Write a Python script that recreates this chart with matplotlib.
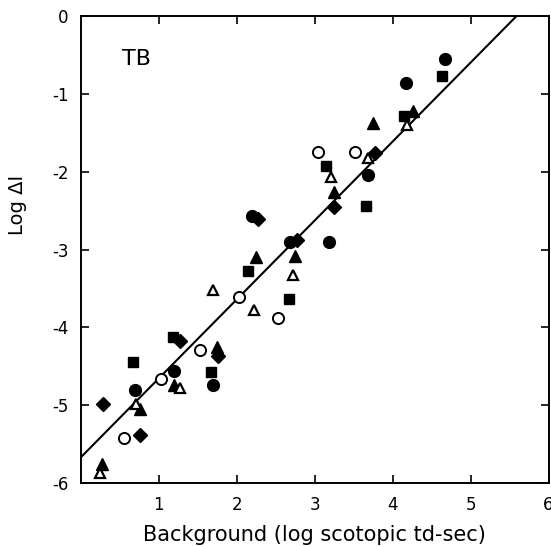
import matplotlib
matplotlib.use('Agg')
import matplotlib.pyplot as plt

# values (log background, log delta I)
filled_circle_x = [0.70, 1.20, 1.70, 2.19, 2.68, 3.19, 3.68, 4.17, 4.67]
filled_circle_y = [-4.81, -4.56, -4.74, -2.57, -2.90, -2.90, -2.04, -0.86, -0.55]

filled_square_x = [0.67, 1.18, 1.67, 2.15, 2.67, 3.14, 3.66, 4.15, 4.63]
filled_square_y = [-4.45, -4.13, -4.58, -3.28, -3.63, -1.93, -2.44, -1.28, -0.77]

filled_diamond_x = [0.28, 0.76, 1.27, 1.76, 2.27, 2.77, 3.25, 3.77]
filled_diamond_y = [-4.99, -5.38, -4.18, -4.37, -2.61, -2.88, -2.45, -1.76]

filled_tri_x = [0.27, 0.76, 1.20, 1.75, 2.25, 2.75, 3.25, 3.75, 4.26]
filled_tri_y = [-5.75, -5.05, -4.74, -4.25, -3.10, -3.08, -2.26, -1.38, -1.22]

open_tri_x = [0.24, 0.71, 1.27, 1.70, 2.22, 2.72, 3.21, 3.68, 4.19]
open_tri_y = [-5.87, -4.98, -4.78, -3.52, -3.78, -3.33, -2.07, -1.82, -1.40]

open_circle_x = [0.55, 1.03, 1.53, 2.03, 2.53, 3.04, 3.52]
open_circle_y = [-5.42, -4.67, -4.29, -3.61, -3.88, -1.75, -1.75]

fit_x = [0.0, 5.59]
fit_y = [-5.67, 0.0]

xticks = [1, 2, 3, 4, 5, 6]
yticks = [0, -1, -2, -3, -4, -5, -6]

fig = plt.figure(figsize=(5.51, 5.47), dpi=100)
ax = fig.add_axes([0.1467, 0.117, 0.8488, 0.8537])

ax.plot(fit_x, fit_y, color='black', lw=1.5, zorder=1)

ax.plot(filled_circle_x, filled_circle_y, 'o', color='black', ms=8.5, zorder=3)
ax.plot(filled_square_x, filled_square_y, 's', color='black', ms=7.5, zorder=3)
ax.plot(filled_diamond_x, filled_diamond_y, 'D', color='black', ms=7.5, zorder=3)
ax.plot(filled_tri_x, filled_tri_y, '^', color='black', ms=8, zorder=3)
ax.plot(open_tri_x, open_tri_y, '^', mfc='white', mec='black', mew=1.6, ms=7.5, zorder=4)
ax.plot(open_circle_x, open_circle_y, 'o', mfc='white', mec='black', mew=1.4, ms=8, zorder=4)

ax.text(0.72, -0.55, 'TB', fontsize=16, ha='center', va='center')

ax.set_xlim(0, 6)
ax.set_ylim(-6, 0)
ax.set_xticks(xticks)
ax.set_xticklabels([str(t) for t in xticks])
ax.set_yticks(yticks)
ax.set_yticklabels(['0'] + ['-%d' % (-t) for t in yticks[1:]])
ax.tick_params(direction='in', length=6, width=1.2, top=True, right=True,
               labelsize=12, pad=9)
for s in ax.spines.values():
    s.set_linewidth(1.4)

ax.set_xlabel('Background (log scotopic td-sec)', fontsize=15, labelpad=8)
ax.set_ylabel('Log ΔI', fontsize=14)
ax.yaxis.set_label_coords(-0.115, 0.595)

fig.savefig('out.png', dpi=100)
